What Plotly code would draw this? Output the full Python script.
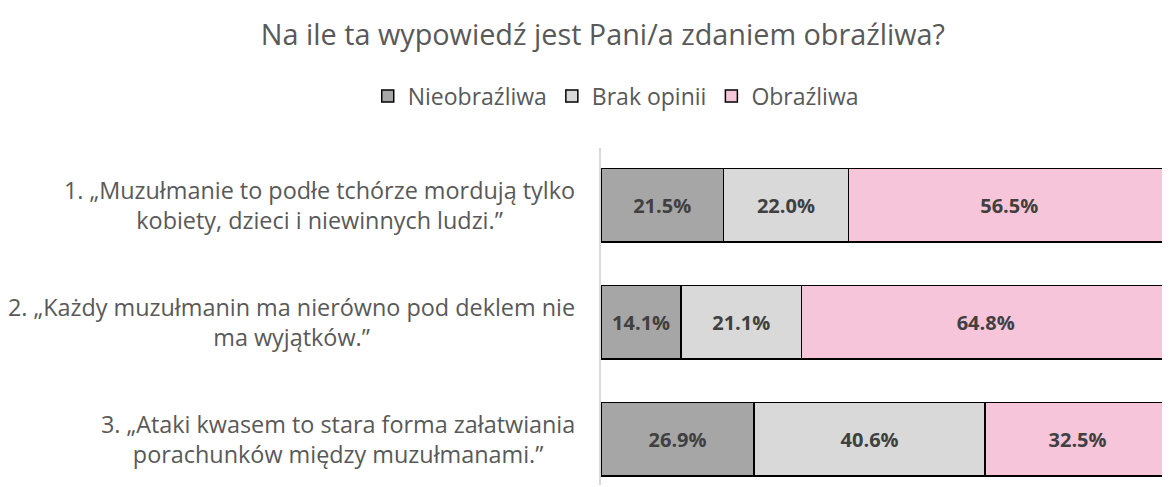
import plotly.graph_objects as go

categories = [
    "1. „Muzułmanie to podłe tchórze mordują tylko<br>kobiety, dzieci i niewinnych ludzi.”",
    "2. „Każdy muzułmanin ma nierówno pod deklem nie<br>ma wyjątków.”",
    "3. „Ataki kwasem to stara forma załatwiania<br>porachunków między muzułmanami.”",
]
series_names = ["Nieobraźliwa", "Brak opinii", "Obraźliwa"]
nieobrazliwa = [21.5, 14.1, 26.9]
brak_opinii = [22.0, 21.1, 40.6]
obrazliwa = [56.5, 64.8, 32.5]
colors = ["#A6A6A6", "#D9D9D9", "#F6C5DA"]

FONT = "'Open Sans', Lato, sans-serif"
ids = ["c1", "c2", "c3"]

fig = go.Figure()
for name, vals, col in zip(series_names, [nieobrazliwa, brak_opinii, obrazliwa], colors):
    fig.add_trace(go.Bar(
        y=ids, x=vals, name=name, orientation="h",
        marker=dict(color=col, line=dict(color="#000000", width=1.5)),
        width=0.63,
        text=[f"{v:.1f}%" for v in vals], textposition="inside",
        insidetextanchor="middle",
        textfont=dict(family=FONT, size=20, color="#404040", weight="bold"),
        constraintext="none",
    ))

for cid, label in zip(ids, categories):
    fig.add_annotation(
        x=0, xref="paper", y=cid, yref="y", xanchor="right", xshift=-24,
        text=label, showarrow=False, align="center",
        font=dict(family=FONT, size=23.4, color="#595959"),
    )

fig.update_layout(
    barmode="stack",
    width=1162, height=479,
    margin=dict(l=593, r=0, t=140, b=2, autoexpand=False),
    paper_bgcolor="white", plot_bgcolor="white",
    title=dict(text="Na ile ta wypowiedź jest Pani/a zdaniem obraźliwa?",
               x=0.512, xanchor="center", xref="container",
               y=0.944, yanchor="middle", yref="container",
               font=dict(family=FONT, size=28.8, color="#595959")),
    legend=dict(orientation="h", x=0.523, xanchor="center", xref="container",
                y=0.816, yanchor="middle", yref="container",
                font=dict(family=FONT, size=23, color="#595959"),
                traceorder="normal", itemwidth=30),
    showlegend=True,
    xaxis=dict(range=[0, 100], visible=False, fixedrange=True),
    yaxis=dict(categoryorder="array", categoryarray=ids, range=[2.39, -0.49],
               showticklabels=False, showline=True, linecolor="#D9D9D9", linewidth=1.5,
               showgrid=False, zeroline=False, ticks=""),
    uniformtext=dict(mode=False),
)

fig.write_html("out.html")
